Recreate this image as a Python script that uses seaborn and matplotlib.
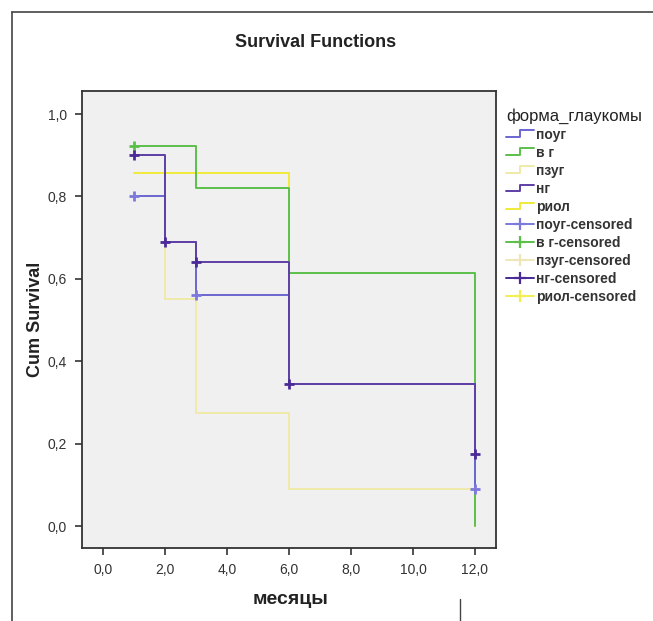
import numpy as np
import pandas as pd
import matplotlib
matplotlib.use('Agg')
import matplotlib.pyplot as plt
import seaborn as sns
from matplotlib.lines import Line2D
from matplotlib.legend_handler import HandlerBase

# groups (legend order)
groups = ['поуг', 'в г', 'пзуг', 'нг', 'риол']
colors = ['#6a66d0', '#5cbf4a', '#efeaa8', '#5e3fa6', '#f0ea3a']
censor_colors = ['#7c78dc', '#5cbf4a', '#efe6b8', '#4a2a96', '#f4ee50']

# survival steps (months, cum survival)
poug_t = [1, 2, 3, 6, 12]
poug_s = [0.80, 0.69, 0.56, 0.345, 0.09]
vg_t = [1, 3, 6, 12]
vg_s = [0.923, 0.82, 0.615, 0.0]
pzug_t = [1, 2, 3, 6, 12]
pzug_s = [0.857, 0.55, 0.275, 0.09, 0.0]
ng_t = [1, 2, 3, 6, 12]
ng_s = [0.90, 0.69, 0.64, 0.345, 0.175]
riol_t = [1, 6, 12]
riol_s = [0.857, 0.345, 0.0]

# censored marks
poug_cens_t = [1, 3, 12]
poug_cens_s = [0.80, 0.56, 0.09]
vg_cens_t = [1]
vg_cens_s = [0.923]
pzug_cens_t = []
pzug_cens_s = []
ng_cens_t = [1, 2, 3, 6, 12]
ng_cens_s = [0.90, 0.69, 0.64, 0.345, 0.175]
riol_cens_t = []
riol_cens_s = []

curves = {
    'поуг': (poug_t, poug_s),
    'в г': (vg_t, vg_s),
    'пзуг': (pzug_t, pzug_s),
    'нг': (ng_t, ng_s),
    'риол': (riol_t, riol_s),
}
censored = {
    'поуг': (poug_cens_t, poug_cens_s),
    'в г': (vg_cens_t, vg_cens_s),
    'пзуг': (pzug_cens_t, pzug_cens_s),
    'нг': (ng_cens_t, ng_cens_s),
    'риол': (riol_cens_t, riol_cens_s),
}

rows = []
for g, (t, s) in curves.items():
    for ti, si in zip(t, s):
        rows.append({'group': g, 't': ti, 's': si})
df = pd.DataFrame(rows)

crows = []
for g, (t, s) in censored.items():
    for ti, si in zip(t, s):
        crows.append({'group': g, 't': ti, 's': si})
df_c = pd.DataFrame(crows)

sns.set_style('white')
plt.rcParams['font.family'] = ['Liberation Sans', 'DejaVu Sans']

fig = plt.figure(figsize=(6.53, 6.21), dpi=100)
ax = fig.add_axes([0.1256, 0.1176, 0.634, 0.7359])
ax.set_facecolor('#f0f0f0')

# draw pale ones first so stronger colours sit on top
draw_order = ['пзуг', 'риол', 'в г', 'поуг', 'нг']
pal = dict(zip(groups, colors))
cpal = dict(zip(groups, censor_colors))
for g in draw_order:
    sub = df[df['group'] == g]
    sns.lineplot(data=sub, x='t', y='s', color=pal[g], drawstyle='steps-post',
                 estimator=None, sort=False, lw=1.4, ax=ax, legend=False)
for g in draw_order:
    sub = df_c[df_c['group'] == g]
    if len(sub):
        sns.scatterplot(data=sub, x='t', y='s', color=cpal[g], marker='+',
                        s=55, linewidth=2.0, ax=ax, legend=False, zorder=5)

ax.set_xlim(-0.68, 12.68)
ax.set_ylim(-0.053, 1.056)
ax.set_xticks(np.arange(0, 13, 2))
ax.set_yticks(np.arange(0, 1.01, 0.2))
ax.set_xticklabels([f'{v:.1f}'.replace('.', ',') for v in np.arange(0, 13, 2)], fontsize=10, color='#333333')
ax.set_yticklabels([f'{v:.1f}'.replace('.', ',') for v in np.arange(0, 1.01, 0.2)], fontsize=10, color='#333333')
ax.tick_params(axis='both', length=5, width=1.2, color='#333333', direction='out', pad=6)
ax.tick_params(axis='x', bottom=True)
ax.tick_params(axis='y', left=True)
for sp in ax.spines.values():
    sp.set_color('#333333')
    sp.set_linewidth(1.3)
ax.set_xlabel('')
ax.set_ylabel('')

fig.text(0.483, 0.932, 'Survival Functions', ha='center', va='center', fontsize=13, fontweight='bold', color='#222222')
fig.text(0.445, 0.034, 'месяцы', ha='center', va='center', fontsize=14, fontweight='bold', color='#222222')
fig.text(0.054, 0.485, 'Cum Survival', ha='center', va='center', rotation=90, fontsize=13, fontweight='bold', color='#222222')

# outer frame of the original figure
fig.add_artist(Line2D([0.018, 0.018], [0.0, 0.981], transform=fig.transFigure, color='#444444', lw=1.2))
fig.add_artist(Line2D([0.018, 1.0], [0.981, 0.981], transform=fig.transFigure, color='#444444', lw=1.2))
fig.add_artist(Line2D([0.705, 0.705], [0.0, 0.035], transform=fig.transFigure, color='#444444', lw=1.0))


class StepHandler(HandlerBase):
    def create_artists(self, legend, orig, xd, yd, width, height, fontsize, trans):
        x0 = xd
        y_lo = yd + height * 0.2
        y_hi = yd + height * 0.85
        xs = [x0, x0 + width * 0.5, x0 + width * 0.5, x0 + width]
        ys = [y_lo, y_lo, y_hi, y_hi]
        ln = Line2D(xs, ys, color=orig.get_color(), lw=1.4, transform=trans)
        return [ln]


handles = []
labels = []
handler_map = {}
for g in groups:
    h = Line2D([], [], color=pal[g], lw=1.4)
    handles.append(h)
    labels.append(g)
    handler_map[h] = StepHandler()
for g in groups:
    h = Line2D([], [], color=cpal[g], lw=1.4, marker='+', markersize=9, markeredgewidth=1.6)
    handles.append(h)
    labels.append(g + '-censored')

leg = fig.legend(handles, labels, handler_map=handler_map, title='форма_глаукомы',
                 loc='upper left', bbox_to_anchor=(0.766, 0.835), frameon=False,
                 prop={'size': 10, 'weight': 'bold'}, title_fontsize=12,
                 handlelength=2.0, handletextpad=0.2,
                 labelspacing=0.29, borderaxespad=0, alignment='left')
for t in leg.get_texts():
    t.set_color('#333333')
leg.get_title().set_color('#222222')

fig.savefig('out.png', dpi=100, facecolor='white')
